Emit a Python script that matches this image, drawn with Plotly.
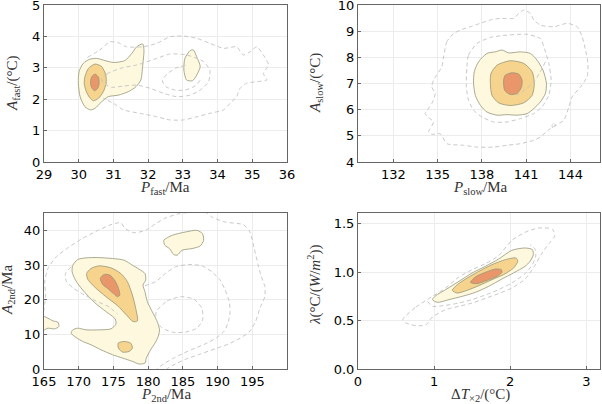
import plotly.graph_objects as go
from plotly.subplots import make_subplots

# ---- panel 1: P_fast / A_fast ----
fast_light = [(30.01, 2.88), (30.13, 3.14), (30.31, 3.27), (30.52, 3.30), (30.76, 3.23), (31.00, 3.17),
              (31.33, 3.23), (31.53, 3.46), (31.67, 3.67), (31.84, 3.76), (31.88, 3.57), (31.84, 3.04),
              (31.79, 2.61), (31.65, 2.40), (31.43, 2.24), (31.14, 2.13), (30.85, 2.08), (30.66, 1.92),
              (30.47, 1.71), (30.34, 1.66), (30.18, 1.76), (30.04, 2.08), (29.99, 2.51)]
fast_blob = [(33.21, 3.55), (33.30, 3.57), (33.40, 3.35), (33.50, 3.04), (33.40, 2.77), (33.28, 2.59),
             (33.11, 2.61), (33.03, 2.93), (33.06, 3.30)]
fast_mid = [(30.18, 2.72), (30.28, 2.98), (30.47, 3.12), (30.66, 3.04), (30.78, 2.77), (30.79, 2.51),
            (30.71, 2.24), (30.57, 2.03), (30.42, 1.95), (30.31, 2.06), (30.21, 2.27), (30.16, 2.51)]
fast_inner = [(30.47, 2.80), (30.57, 2.70), (30.59, 2.53), (30.55, 2.35), (30.46, 2.27), (30.37, 2.37),
              (30.34, 2.56), (30.38, 2.72)]
fast_dash_outer = [(30.25, 3.33), (30.61, 3.57), (30.90, 3.83), (31.14, 3.80), (31.38, 3.67), (31.86, 3.67),
                   (32.25, 3.78), (32.63, 3.99), (33.02, 4.01), (33.40, 3.94), (33.78, 3.78), (34.17, 3.62),
                   (34.55, 3.67), (34.74, 3.41), (34.94, 3.51), (35.13, 3.67), (35.32, 3.41), (35.47, 3.09),
                   (35.32, 2.82), (35.42, 2.61), (35.13, 2.56), (34.84, 2.51), (34.65, 2.35), (34.55, 2.08),
                   (34.36, 1.87), (34.17, 1.66), (33.78, 1.55), (33.40, 1.44), (33.02, 1.34), (32.63, 1.34),
                   (32.25, 1.44), (31.77, 1.55), (31.29, 1.66), (31.00, 1.87), (30.71, 2.03)]
fast_dash_mid = [(30.66, 2.66), (30.81, 2.80), (30.95, 2.88), (31.29, 3.01), (31.67, 3.09), (32.25, 3.30),
                 (32.63, 3.44), (33.11, 3.41), (33.59, 3.20), (33.78, 2.93), (33.74, 2.56), (33.50, 2.29),
                 (33.21, 2.13), (32.82, 2.08), (32.44, 2.19), (32.05, 2.35), (31.67, 2.45), (31.29, 2.42),
                 (30.95, 2.38), (30.71, 2.51), (30.66, 2.66)]
fast_dash_inner = [(33.07, 3.08), (32.78, 2.98), (32.54, 2.80), (32.41, 2.59), (32.51, 2.40), (32.78, 2.29),
                   (33.06, 2.29), (33.35, 2.42), (33.50, 2.61)]

# ---- panel 2: P_slow / A_slow ----
slow_light = [(137.48, 7.45), (137.77, 7.83), (138.34, 8.15), (138.90, 8.21), (139.36, 8.28), (139.81, 8.17),
              (140.60, 8.21), (141.28, 8.15), (141.74, 7.89), (142.14, 7.51), (142.37, 7.00), (142.30, 6.62),
              (141.96, 6.30), (141.51, 6.04), (141.06, 5.85), (140.38, 5.79), (139.70, 5.81), (139.02, 5.79),
              (138.34, 5.91), (137.89, 6.17), (137.55, 6.55), (137.43, 7.00)]
slow_mid = [(138.61, 7.38), (139.02, 7.70), (139.92, 7.87), (140.83, 7.77), (141.40, 7.45), (141.55, 7.00),
            (141.40, 6.55), (140.83, 6.26), (139.92, 6.16), (139.13, 6.26), (138.68, 6.55), (138.57, 7.00)]
slow_inner = [(139.47, 7.13), (139.58, 7.32), (140.04, 7.41), (140.49, 7.36), (140.72, 7.13), (140.67, 6.85),
              (140.38, 6.62), (139.92, 6.58), (139.54, 6.74)]
slow_dash_outer = [(136.08, 8.91), (135.62, 8.60), (135.40, 8.02), (135.28, 7.64), (134.72, 7.13), (134.60, 6.87),
                   (134.83, 6.62), (134.60, 6.23), (134.15, 5.85), (134.38, 5.70), (134.72, 5.53), (134.38, 5.15),
                   (134.60, 5.06), (135.17, 5.08), (135.62, 4.70), (136.75, 4.64), (137.66, 4.57), (138.79, 4.57),
                   (139.70, 4.64), (140.60, 4.70), (141.51, 4.83), (141.96, 4.96), (142.64, 5.28), (143.55, 5.60),
                   (143.89, 6.11), (144.11, 6.49), (144.68, 6.87), (145.13, 7.26), (145.18, 7.77), (145.02, 8.28),
                   (144.79, 8.79), (144.45, 9.17), (143.77, 9.30), (142.87, 9.17), (141.96, 9.23), (141.51, 9.43),
                   (141.28, 9.68), (140.83, 9.81), (140.49, 9.68), (140.15, 9.49), (139.24, 9.49), (138.57, 9.43),
                   (137.89, 9.30), (137.21, 9.17), (136.53, 9.04), (136.08, 8.91)]
slow_dash_mid = [(136.98, 7.64), (137.09, 8.09), (137.66, 8.53), (138.57, 8.76), (139.70, 8.85), (141.06, 8.88),
                 (141.96, 8.72), (142.23, 8.34), (142.53, 7.77), (142.69, 7.13), (142.53, 6.55), (142.07, 6.11),
                 (141.51, 5.85), (140.60, 5.66), (139.70, 5.53), (138.79, 5.53), (138.00, 5.72), (137.43, 5.98),
                 (137.09, 6.36), (136.94, 6.87), (136.98, 7.64)]
slow_dash_cut = [(142.30, 7.83), (141.96, 7.45), (141.51, 7.06), (140.94, 6.77), (140.38, 6.55)]
slow_dash_dot = [(142.75, 5.40), (142.85, 5.48), (142.97, 5.42), (142.92, 5.31), (142.80, 5.30), (142.75, 5.40)]

# ---- panel 3: P_2nd / A_2nd ----
nd_light = [(169.15, 29.95), (169.86, 31.58), (171.06, 32.06), (172.73, 32.15), (174.87, 31.87), (176.54, 31.39),
            (177.73, 29.95), (178.69, 28.80), (179.54, 27.56), (179.64, 25.65), (179.26, 24.21), (179.54, 22.30),
            (179.88, 19.43), (180.59, 16.56), (181.31, 13.68), (181.64, 11.29), (181.45, 9.38), (180.98, 7.46),
            (180.36, 5.55), (179.74, 3.16), (179.54, 1.72), (178.69, 1.44), (177.73, 2.20), (176.30, 3.16),
            (174.87, 4.11), (173.20, 5.55), (171.77, 6.99), (170.58, 7.94), (169.63, 9.09), (168.91, 10.33),
            (169.15, 11.29), (169.86, 11.77), (171.06, 11.29), (172.96, 11.29), (174.63, 11.58), (175.35, 12.92),
            (175.25, 14.45), (173.92, 16.56), (172.25, 19.23), (170.58, 22.78), (169.53, 25.65), (169.05, 28.04)]
nd_blob_top = [(182.26, 37.13), (183.46, 38.56), (185.36, 39.52), (187.03, 40.00), (187.84, 39.04),
               (187.98, 37.13), (187.51, 35.50), (186.32, 34.74), (184.89, 34.26), (184.17, 32.82),
               (183.69, 33.01), (183.07, 34.74), (182.41, 35.69)]
nd_blob_left = [(164.95, 15.12), (165.57, 14.64), (166.29, 13.88), (167.00, 13.49), (167.15, 12.25),
                (166.53, 11.58), (165.57, 11.77), (164.95, 11.29)]
nd_mid = [(171.15, 27.56), (171.77, 29.00), (172.96, 29.76), (174.63, 29.19), (176.06, 27.56), (177.02, 25.17),
          (177.73, 21.34), (178.21, 17.51), (178.45, 13.88), (177.83, 13.68), (176.87, 15.60), (175.59, 18.28),
          (173.92, 20.86), (172.25, 23.73), (171.29, 25.93)]
nd_mid_small = [(175.68, 7.46), (176.54, 7.94), (177.49, 7.46), (177.73, 6.03), (177.26, 5.07), (176.30, 4.88),
                (175.73, 6.03)]
nd_inner = [(173.11, 26.12), (173.68, 27.27), (174.49, 27.08), (175.25, 25.36), (175.73, 23.25), (175.92, 21.34),
            (175.59, 20.86), (174.97, 21.82), (174.16, 23.25), (173.44, 24.40)]
nd_dash_outer = [(164.95, 16.56), (165.24, 21.34), (165.10, 25.17), (165.57, 29.00), (166.76, 32.34),
                 (168.43, 34.93), (170.34, 37.42), (172.49, 39.71), (174.63, 41.63), (176.06, 42.20),
                 (176.68, 40.48), (177.97, 39.33), (179.64, 40.00), (181.07, 41.91), (182.50, 43.54),
                 (184.41, 44.78), (186.32, 45.26), (188.22, 45.26), (189.18, 43.83), (191.08, 42.39),
                 (193.71, 41.63), (194.66, 39.52), (195.28, 34.74), (195.85, 29.95), (196.23, 27.08),
                 (196.81, 23.73), (196.81, 20.86), (196.09, 17.51), (195.47, 13.68), (194.52, 10.62),
                 (193.09, 8.71), (191.56, 7.18), (189.65, 5.84), (187.51, 4.31), (185.36, 2.78),
                 (183.93, 1.44), (182.74, 0.10), (182.41, -0.67)]
nd_dash_mid_left = [(168.91, 29.47), (168.10, 27.56), (168.20, 25.36), (169.15, 23.44), (170.82, 21.34),
                    (172.49, 19.62), (174.39, 17.89), (175.59, 15.79)]
nd_dash_mid_right = [(179.54, 24.02), (181.07, 25.17), (182.50, 27.56), (183.93, 29.47), (185.84, 30.14),
                     (187.75, 29.76), (189.18, 28.04), (190.37, 25.65), (191.09, 22.78), (191.66, 19.62),
                     (191.80, 16.56), (191.56, 13.68), (190.99, 11.00), (189.89, 9.09), (188.46, 7.46),
                     (186.79, 6.03), (185.12, 4.59), (183.69, 3.16), (182.26, 1.53), (181.31, 0.10),
                     (181.07, -0.48)]
nd_dash_inner = [(181.17, 16.56), (182.74, 19.62), (184.65, 20.86), (186.56, 20.19), (187.75, 17.51),
                 (187.84, 14.17), (187.03, 11.77), (185.36, 10.63), (183.46, 10.63), (181.93, 11.96),
                 (181.17, 14.17), (181.17, 16.56)]

# ---- panel 4: dT_x2 / lambda ----
lam_light = [(0.978, 0.716), (1.022, 0.757), (1.152, 0.819), (1.326, 0.905), (1.500, 0.991), (1.674, 1.060),
             (1.848, 1.135), (2.022, 1.225), (2.196, 1.249), (2.291, 1.232), (2.304, 1.180), (2.261, 1.111),
             (2.196, 1.060), (2.043, 0.991), (1.891, 0.929), (1.717, 0.853), (1.543, 0.791), (1.370, 0.750),
             (1.196, 0.716), (1.043, 0.688)]
lam_mid = [(1.239, 0.812), (1.304, 0.870), (1.435, 0.939), (1.587, 1.008), (1.761, 1.077), (1.935, 1.128),
           (2.074, 1.146), (2.100, 1.111), (2.043, 1.042), (1.913, 0.974), (1.761, 0.922), (1.587, 0.860),
           (1.435, 0.812), (1.304, 0.784)]
lam_inner = [(1.478, 0.894), (1.543, 0.950), (1.674, 0.998), (1.804, 1.032), (1.883, 1.025), (1.891, 0.998),
             (1.826, 0.956), (1.696, 0.915), (1.565, 0.881)]
lam_dash_outer = [(0.587, 0.509), (0.761, 0.640), (0.978, 0.750), (1.152, 0.836), (1.326, 0.950), (1.500, 1.025),
                  (1.674, 1.087), (1.848, 1.170), (2.022, 1.328), (2.196, 1.411), (2.370, 1.455), (2.552, 1.445),
                  (2.587, 1.376), (2.509, 1.294), (2.413, 1.190), (2.317, 1.060), (2.196, 0.929), (2.022, 0.836),
                  (1.848, 0.778), (1.674, 0.729), (1.500, 0.681), (1.326, 0.647), (1.152, 0.612), (0.978, 0.537),
                  (0.891, 0.454), (0.761, 0.447), (0.630, 0.475), (0.587, 0.509)]
lam_dash_mid = [(0.913, 0.698), (0.978, 0.647), (1.152, 0.657), (1.326, 0.681), (1.500, 0.716), (1.674, 0.764),
                (1.848, 0.819), (2.022, 0.888), (2.196, 0.984), (2.291, 1.077), (2.335, 1.163), (2.326, 1.239),
                (2.261, 1.283)]

LIGHT = "rgb(253,248,222)"
MID = "rgb(246,212,142)"
INNER = "rgb(233,150,106)"
EDGE = "rgb(150,150,120)"
DASH = "rgb(200,200,200)"


def fill_trace(pts, color):
    xs = [p[0] for p in pts] + [pts[0][0]]
    ys = [p[1] for p in pts] + [pts[0][1]]
    return go.Scatter(x=xs, y=ys, mode="lines", fill="toself", fillcolor=color,
                      line=dict(color=EDGE, width=0.8, shape="spline", smoothing=0.7),
                      hoverinfo="skip", showlegend=False)


def dash_trace(pts):
    return go.Scatter(x=[p[0] for p in pts], y=[p[1] for p in pts], mode="lines",
                      line=dict(color=DASH, width=1, dash="4px,3px", shape="spline", smoothing=0.6),
                      hoverinfo="skip", showlegend=False)


panels = {
    (1, 1): dict(fills=[(fast_light, LIGHT), (fast_blob, LIGHT), (fast_mid, MID), (fast_inner, INNER)],
                 dashes=[fast_dash_outer, fast_dash_mid, fast_dash_inner]),
    (1, 2): dict(fills=[(slow_light, LIGHT), (slow_mid, MID), (slow_inner, INNER)],
                 dashes=[slow_dash_outer, slow_dash_mid, slow_dash_cut, slow_dash_dot]),
    (2, 1): dict(fills=[(nd_light, LIGHT), (nd_blob_top, LIGHT), (nd_blob_left, LIGHT), (nd_mid, MID),
                        (nd_mid_small, MID), (nd_inner, INNER)],
                 dashes=[nd_dash_outer, nd_dash_mid_left, nd_dash_mid_right, nd_dash_inner]),
    (2, 2): dict(fills=[(lam_light, LIGHT), (lam_mid, MID), (lam_inner, INNER)],
                 dashes=[lam_dash_outer, lam_dash_mid]),
}

fig = make_subplots(rows=2, cols=2)
for (r, c), p in panels.items():
    for pts, color in p["fills"]:
        fig.add_trace(fill_trace(pts, color), row=r, col=c)
    for pts in p["dashes"]:
        fig.add_trace(dash_trace(pts), row=r, col=c)

W, H = 602, 404
dom_x = {1: [44 / W, 287 / W], 2: [358 / W, 600 / W]}
dom_y = {1: [1 - 162 / H, 1 - 5 / H], 2: [1 - 369 / H, 1 - 213 / H]}

tick_font = dict(family="DejaVu Sans", size=13, color="black")
title_font = dict(family="Liberation Serif", size=15, color="#333")

base = dict(showgrid=True, gridcolor="#ececec", gridwidth=0.6, zeroline=False,
            showline=True, mirror=True, linecolor="#666", linewidth=1, automargin=False,
            ticks="inside", ticklen=3, tickcolor="#666", tickfont=tick_font,
            ticklabeloverflow="allow")

axes = {
    (1, 1): dict(xr=[29, 36.001], xt=[29, 30, 31, 32, 33, 34, 35, 36], yr=[0, 5.001], yt=[0, 1, 2, 3, 4, 5], yf=None),
    (1, 2): dict(xr=[129.6, 146.0], xt=[132, 135, 138, 141, 144], yr=[4, 10.001], yt=[4, 5, 6, 7, 8, 9, 10], yf=None),
    (2, 1): dict(xr=[165, 200], xt=[165, 170, 175, 180, 185, 190, 195], yr=[0, 45], yt=[0, 10, 20, 30, 40], yf=None),
    (2, 2): dict(xr=[0, 3.18], xt=[0, 1, 2, 3], yr=[0, 1.61], yt=[0, 0.5, 1.0, 1.5], yf=".1f"),
}

for (r, c), a in axes.items():
    fig.update_xaxes(base, range=a["xr"], tickvals=a["xt"], domain=dom_x[c], row=r, col=c)
    fig.update_yaxes(base, range=a["yr"], tickvals=a["yt"], domain=dom_y[r],
                     tickformat=a["yf"] if a["yf"] else None, row=r, col=c)

# axis labels: (text, x px, y px, angle)
labels = [
    ("<i>P</i><sub>fast</sub>/Ma", 165, 188, 0),
    ("<i>A</i><sub>fast</sub>/(°C)", 13, 83, -90),
    ("<i>P</i><sub>slow</sub>/Ma", 480, 188, 0),
    ("<i>A</i><sub>slow</sub>/(°C)", 316, 83, -90),
    ("<i>P</i><sub>2nd</sub>/Ma", 166, 395, 0),
    ("<i>A</i><sub>2nd</sub>/Ma", 8, 290, -90),
    ("Δ<i>T</i><sub>×2</sub>/(°C)", 480, 395, 0),
    ("<i>λ</i>(°C/(<i>W</i>/<i>m</i><sup>2</sup>))", 314, 285, -90),
]
for text, px, py, ang in labels:
    fig.add_annotation(text=text, x=px / W, y=1 - py / H, xref="paper", yref="paper",
                       xanchor="center", yanchor="middle", textangle=ang, showarrow=False,
                       font=title_font)

fig.update_layout(width=W, height=H, margin=dict(l=0, r=0, t=0, b=0),
                  plot_bgcolor="white", paper_bgcolor="white", showlegend=False)

fig.write_html("out.html", config={"displayModeBar": False},
               post_script="document.body.style.margin='0';")
